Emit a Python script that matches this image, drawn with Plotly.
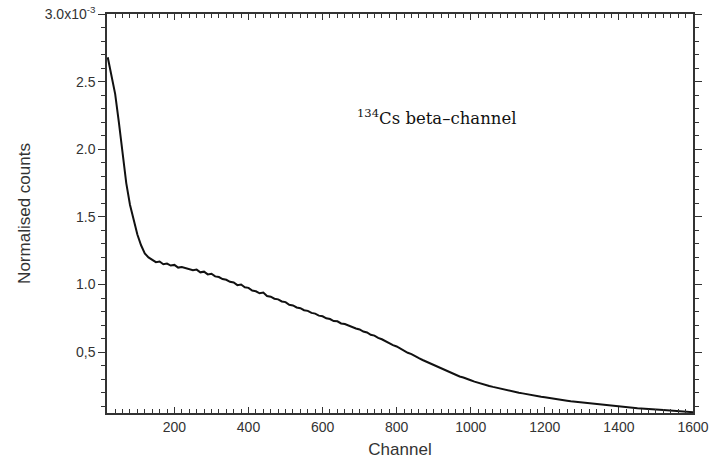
import plotly.graph_objects as go

# Channel grid (every 10 channels) and normalised counts (units of 1e-3)
channel = list(range(20, 1601, 10))
counts_e3 = [
    2.68, 2.53, 2.41, 2.20, 1.96, 1.75, 1.59, 1.47, 1.37, 1.29,
    1.23, 1.20, 1.18, 1.165, 1.17, 1.15, 1.155, 1.14, 1.145, 1.125,
    1.13, 1.12, 1.115, 1.105, 1.11, 1.09, 1.095, 1.075, 1.08, 1.06,
    1.055, 1.04, 1.035, 1.02, 1.015, 0.995, 1.0, 0.98, 0.975, 0.955,
    0.95, 0.935, 0.94, 0.915, 0.91, 0.895, 0.89, 0.875, 0.87, 0.85,
    0.845, 0.83, 0.825, 0.81, 0.805, 0.79, 0.785, 0.77, 0.765, 0.75,
    0.745, 0.73, 0.728, 0.712, 0.708, 0.695, 0.688, 0.675, 0.668, 0.652,
    0.645, 0.628, 0.622, 0.605, 0.595, 0.58, 0.57, 0.552, 0.542, 0.525,
    0.512, 0.495, 0.485, 0.468, 0.455, 0.442, 0.43, 0.415, 0.405, 0.39,
    0.38, 0.365, 0.355, 0.343, 0.333, 0.32, 0.312, 0.3, 0.292, 0.282,
    0.273, 0.265, 0.258, 0.25, 0.243, 0.236, 0.23, 0.223, 0.218, 0.211,
    0.206, 0.2, 0.195, 0.189, 0.185, 0.179, 0.175, 0.17, 0.166, 0.161,
    0.157, 0.153, 0.149, 0.145, 0.141, 0.137, 0.134, 0.13, 0.127, 0.123,
    0.12, 0.117, 0.114, 0.111, 0.108, 0.105, 0.103, 0.1, 0.097, 0.095,
    0.093, 0.09, 0.088, 0.086, 0.084, 0.081, 0.079, 0.077, 0.076, 0.074,
    0.072, 0.07, 0.069, 0.067, 0.065, 0.063, 0.061, 0.059, 0.056,
]

x_tickvals = [200, 400, 600, 800, 1000, 1200, 1400, 1600]
x_ticktext = ["200", "400", "600", "800", "1000", "1200", "1400", "1600"]
y_tickvals = [0.5, 1.0, 1.5, 2.0, 2.5, 3.0]
y_ticktext = ["0,5", "1.0", "1.5", "2.0", "2.5", "3.0x10<sup>-3</sup>"]

fig = go.Figure()
fig.add_trace(go.Scatter(
    x=channel, y=counts_e3, mode="lines",
    line=dict(color="#111111", width=2.0),
    showlegend=False,
))

axis_font = dict(family="Liberation Sans, Arial, sans-serif", size=14, color="#333333")
title_font = dict(family="Liberation Sans, Arial, sans-serif", size=17, color="#333333")

fig.update_layout(
    width=712, height=463,
    margin=dict(l=107, r=19, t=14, b=50),
    paper_bgcolor="white", plot_bgcolor="white",
    font=axis_font,
    xaxis=dict(
        range=[18, 1600], showgrid=False, zeroline=False, automargin=False,
        showline=True, linecolor="#333333", linewidth=1.5, mirror="allticks",
        ticks="inside", ticklen=6, tickwidth=1.2, tickcolor="#333333",
        tickvals=x_tickvals, ticktext=x_ticktext,
        minor=dict(tick0=0, dtick=20, ticks="inside", ticklen=4, tickcolor="#333333", tickwidth=1),
        title=dict(text="Channel", font=title_font, standoff=10),
        tickfont=axis_font,
    ),
    yaxis=dict(
        range=[0.05, 3.0], showgrid=False, zeroline=False, automargin=False,
        showline=True, linecolor="#333333", linewidth=1.5, mirror="allticks",
        ticks="outside", ticklen=7, tickwidth=1.2, tickcolor="#333333",
        tickvals=y_tickvals, ticktext=y_ticktext,
        minor=dict(tick0=0, dtick=0.1, ticks="outside", ticklen=4, tickcolor="#333333", tickwidth=1),
        title=dict(text="Normalised counts", font=title_font, standoff=10),
        tickfont=axis_font,
    ),
    annotations=[dict(
        x=(436 - 107) / (693 - 107), y=(413 - 104) / (413 - 14),
        xref="paper", yref="paper", text="<sup>134</sup>Cs beta\u2013channel",
        showarrow=False, font=dict(family="DejaVu Serif, serif", size=16.5, color="#111111"),
    )],
)

fig.write_html("out.html")
